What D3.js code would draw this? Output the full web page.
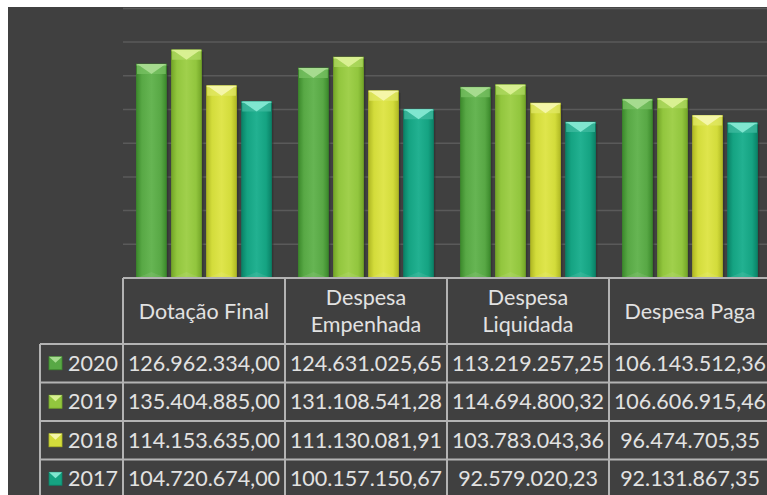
<!DOCTYPE html>
<html>
<head>
<meta charset="utf-8">
<script src="https://cdn.jsdelivr.net/npm/d3@7"></script>
<style>
  html, body { margin: 0; padding: 0; background: #fff; }
  svg { display: block; }
  text { font-family: Lato, "Open Sans", sans-serif; fill: #e2e2e2; }
</style>
</head>
<body>
<svg width="767" height="495"></svg>
<script>
// data
const categories = ["Dotação Final", "Despesa Empenhada", "Despesa Liquidada", "Despesa Paga"];
const years = ["2020", "2019", "2018", "2017"];
const v2020 = [126962334.00, 124631025.65, 113219257.25, 106143512.36];
const v2019 = [135404885.00, 131108541.28, 114694800.32, 106606915.46];
const v2018 = [114153635.00, 111130081.91, 103783043.36, 96474705.35];
const v2017 = [104720674.00, 100157150.67, 92579020.23, 92131867.35];
const yTicks = [0, 20e6, 40e6, 60e6, 80e6, 100e6, 120e6, 140e6, 160e6];

const seriesValues = { "2020": v2020, "2019": v2019, "2018": v2018, "2017": v2017 };

// colours: body, light edge, dark edge, top triangle, side bevel
const palette = {
  "2020": { body: "#58a845", light: "#66b553", dark: "#3c8a2c", tri: "#a6db8f", side: "#78c163" },
  "2019": { body: "#92c63e", light: "#a0d04c", dark: "#74a628", tri: "#d9f092", side: "#afd962" },
  "2018": { body: "#d3dc3b", light: "#dfe54c", dark: "#b0b924", tri: "#f5f6a8", side: "#e2e866" },
  "2017": { body: "#15a382", light: "#22b191", dark: "#0a8267", tri: "#80e6d0", side: "#40bba0" }
};

const svg = d3.select("svg");
const W = 767, H = 495;
const fmt = d3.formatLocale({ decimal: ",", thousands: ".", grouping: [3], currency: ["R$", ""] }).format(",.2f");

// dark panel
svg.append("rect")
  .attr("x", 8).attr("y", 7)
  .attr("width", W - 8).attr("height", H - 7)
  .attr("fill", "#404040");

const left = 123, colW = 162;
const axisY = 278, topY = 8.4;

const x0 = d3.scaleBand()
  .domain(categories)
  .range([left, left + colW * categories.length])
  .paddingInner(0.167)
  .paddingOuter(0.0835);

const x1 = d3.scaleBand()
  .domain(years)
  .range([0, x0.bandwidth()])
  .paddingInner(0.15);

const y = d3.scaleLinear()
  .domain([0, 160e6])
  .range([axisY, topY]);

// gradients
const defs = svg.append("defs");
years.forEach(yr => {
  const p = palette[yr];
  const g = defs.append("linearGradient").attr("id", "g" + yr)
    .attr("x1", "0%").attr("x2", "100%").attr("y1", "0%").attr("y2", "0%");
  g.append("stop").attr("offset", "0%").attr("stop-color", p.dark);
  g.append("stop").attr("offset", "18%").attr("stop-color", p.body);
  g.append("stop").attr("offset", "50%").attr("stop-color", p.light);
  g.append("stop").attr("offset", "82%").attr("stop-color", p.body);
  g.append("stop").attr("offset", "100%").attr("stop-color", p.dark);
});

// gridlines
svg.append("g")
  .selectAll("line")
  .data(yTicks.filter(d => d > 0))
  .enter().append("line")
  .attr("x1", x0.range()[0]).attr("x2", x0.range()[1])
  .attr("y1", d => y(d)).attr("y2", d => y(d))
  .attr("stroke", "#5a5a5a").attr("stroke-width", 1.5);

// bars
const rows = [];
categories.forEach((c, i) => {
  years.forEach(yr => rows.push({ cat: c, year: yr, value: seriesValues[yr][i] }));
});

const bar = svg.append("g").selectAll("g")
  .data(rows)
  .enter().append("g")
  .attr("transform", d => `translate(${x0(d.cat) + x1(d.year)},0)`);

const bw = x1.bandwidth();
const bev = 10;

bar.append("rect")
  .attr("x", 2).attr("y", d => y(d.value) + 2)
  .attr("width", bw).attr("height", d => axisY - y(d.value) - 2)
  .attr("fill", "#2e2e2e").attr("opacity", 0.6);

bar.append("rect")
  .attr("x", 0).attr("y", d => y(d.value))
  .attr("width", bw).attr("height", d => axisY - y(d.value))
  .attr("fill", d => `url(#g${d.year})`)
  .attr("stroke", d => palette[d.year].dark).attr("stroke-width", 0.8);

// top bevel: side pieces then the light triangle
bar.append("path")
  .attr("d", d => {
    const t = y(d.value);
    return `M0.5,${t} L${bw / 2},${t + bev} L0.5,${t + bev} Z M${bw - 0.5},${t} L${bw / 2},${t + bev} L${bw - 0.5},${t + bev} Z`;
  })
  .attr("fill", d => palette[d.year].side).attr("opacity", 0.75);

bar.append("path")
  .attr("d", d => {
    const t = y(d.value);
    return `M0.5,${t} L${bw - 0.5},${t} L${bw / 2},${t + bev} Z`;
  })
  .attr("fill", d => palette[d.year].tri);

bar.append("rect")
  .attr("x", 0).attr("y", d => y(d.value))
  .attr("width", bw).attr("height", 1.5)
  .attr("fill", d => palette[d.year].tri).attr("opacity", 0.7);

// faint bottom bevel
bar.append("path")
  .attr("d", `M0,${axisY} L${bw / 2},${axisY - 6} L${bw},${axisY} Z`)
  .attr("fill", "#ffffff").attr("opacity", 0.08);

// data table
const tableRight = x0.range()[1];
const headBottom = 344, rowH = 38.5, legendLeft = 40;
const lineColor = "#b3b3b3";
const table = svg.append("g");

const colEdges = d3.range(categories.length + 1).map(i => left + i * x0.step());

// horizontal lines
table.append("line")
  .attr("x1", left).attr("x2", tableRight)
  .attr("y1", axisY).attr("y2", axisY)
  .attr("stroke", lineColor).attr("stroke-width", 2);
d3.range(years.length + 1).forEach(i => {
  const yy = headBottom + i * rowH;
  table.append("line")
    .attr("x1", legendLeft).attr("x2", tableRight)
    .attr("y1", yy).attr("y2", yy)
    .attr("stroke", lineColor).attr("stroke-width", 2);
});
// vertical lines
colEdges.forEach(xx => {
  table.append("line")
    .attr("x1", xx).attr("x2", xx)
    .attr("y1", axisY).attr("y2", headBottom + years.length * rowH)
    .attr("stroke", lineColor).attr("stroke-width", 2);
});
table.append("line")
  .attr("x1", legendLeft).attr("x2", legendLeft)
  .attr("y1", headBottom).attr("y2", headBottom + years.length * rowH)
  .attr("stroke", lineColor).attr("stroke-width", 2);

// header labels, wrapped when too wide
const fs = 21.5;
const headMid = (axisY + headBottom) / 2;
categories.forEach(c => {
  const cx = x0(c) + x0.bandwidth() / 2;
  const t = table.append("text")
    .attr("x", cx).attr("text-anchor", "middle")
    .style("font-size", fs + "px").text(c);
  let lines = [c];
  if (t.node().getComputedTextLength() > x0.step() - 14) lines = c.split(" ");
  t.text(null);
  const lh = 27.5;
  lines.forEach((ln, j) => {
    t.append("tspan")
      .attr("x", cx)
      .attr("y", headMid + (j - (lines.length - 1) / 2) * lh)
      .attr("dy", "0.36em")
      .text(ln);
  });
});

// rows: legend key, year, values
years.forEach((yr, i) => {
  const p = palette[yr];
  const mid = headBottom + (i + 0.5) * rowH;
  const k = 13, kx = 49, ky = mid - k / 2;
  table.append("rect")
    .attr("x", kx).attr("y", ky).attr("width", k).attr("height", k)
    .attr("fill", p.body).attr("stroke", p.dark).attr("stroke-width", 0.8);
  table.append("path")
    .attr("d", `M${kx},${ky} L${kx + k},${ky} L${kx + k / 2},${ky + 6} Z`)
    .attr("fill", p.tri);
  table.append("text")
    .attr("x", 68).attr("y", mid).attr("dy", "0.36em")
    .style("font-size", fs + "px").text(yr);
  categories.forEach((c, j) => {
    table.append("text")
      .attr("x", x0(c) + x0.bandwidth() / 2).attr("y", mid).attr("dy", "0.36em")
      .attr("text-anchor", "middle")
      .style("font-size", fs + "px")
      .text(fmt(seriesValues[yr][j]));
  });
});
</script>
</body>
</html>
